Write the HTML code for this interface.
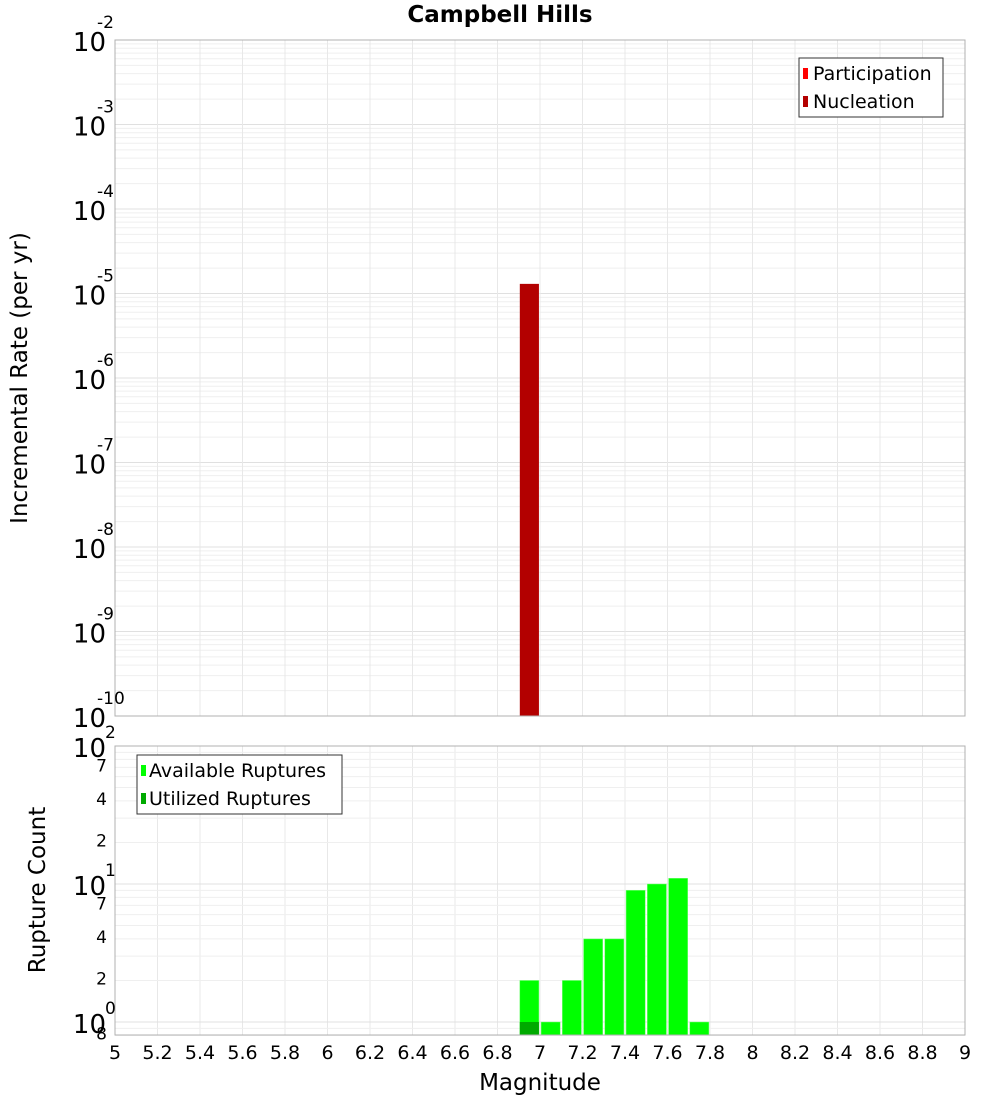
<!DOCTYPE html>
<html><head><meta charset="utf-8"><style>
body{margin:0;background:#fff;font-family:"DejaVu Sans","Liberation Sans",sans-serif}
</style></head><body>
<svg id="c" width="1000" height="1100" xmlns="http://www.w3.org/2000/svg"></svg>
<script>
const mags = [6.95];
const nucleation = [1.3e-5];
const participation = [1.3e-5];
const rupMags = [6.95, 7.05, 7.15, 7.25, 7.35, 7.45, 7.55, 7.65, 7.75];
const available = [2, 1, 2, 4, 4, 9, 10, 11, 1];
const utilMags = [6.95];
const utilized = [1];
const xTicks = [5,5.2,5.4,5.6,5.8,6,6.2,6.4,6.6,6.8,7,7.2,7.4,7.6,7.8,8,8.2,8.4,8.6,8.8,9];

const NS="http://www.w3.org/2000/svg";
const svg=document.getElementById('c');
function el(t,a,name,p){const e=document.createElementNS(NS,t);for(const k in a)e.setAttribute(k,a[k]);


(p||svg).appendChild(e);return e;}
const X0=115,X1=965;
const xs=v=>X0+(v-5)/4*(X1-X0);
const T0=40,T1=716; const ys1=v=>T0+(-2-Math.log10(v))*(T1-T0)/8;
const B0=746,B1=1035; const ys2=v=>B0+(2-Math.log10(v))*138;

el('rect',{x:X0,y:T0,width:X1-X0,height:T1-T0,fill:'#fff'},'top-plot-area');
for(let d=-10;d<-2;d++)for(let m=1;m<10;m++){const y=ys1(m*Math.pow(10,d));
el('line',{x1:X0,x2:X1,y1:y,y2:y,stroke:m==1?'#e0e0e0':'#efefef','stroke-width':1},'top-h-grid');}
for(let v=5.2;v<9;v+=0.2){const x=xs(v);el('line',{x1:x,x2:x,y1:T0,y2:T1,stroke:'#e8e8e8'},'top-v-grid');
el('line',{x1:x,x2:x,y1:B0,y2:B1,stroke:'#e8e8e8'},'bottom-v-grid');}
for(let d=-1;d<2;d++)for(let m=1;m<10;m++){const v=m*Math.pow(10,d);if(v<0.8)continue;const y=ys2(v);
el('line',{x1:X0,x2:X1,y1:y,y2:y,stroke:m==1?'#e0e0e0':'#efefef'},'bottom-h-grid');}

mags.forEach((m,i)=>{const y=ys1(nucleation[i]);
el('rect',{x:xs(m-0.045),y:y,width:xs(m+0.045)-xs(m-0.045),height:T1-y,fill:'#b30000'},'nucleation-bar');});
rupMags.forEach((m,i)=>{const y=ys2(available[i]);
el('rect',{x:xs(m-0.045),y:y,width:xs(m+0.045)-xs(m-0.045),height:B1-y,fill:'#00ff00',stroke:'#7fff7f','stroke-width':0.5},'available-bar');});
utilMags.forEach((m,i)=>{const y=ys2(utilized[i]);
el('rect',{x:xs(m-0.045),y:y,width:xs(m+0.045)-xs(m-0.045),height:B1-y,fill:'#00aa00'},'utilized-bar');});

el('rect',{x:X0,y:T0,width:X1-X0,height:T1-T0,fill:'none',stroke:'#b0b0b0'},'top-plot-border');
el('rect',{x:X0,y:B0,width:X1-X0,height:B1-B0,fill:'none',stroke:'#b0b0b0'},'bottom-plot-border');

function txt(x,y,s,size,name,o){const t=el('text',Object.assign({x:x,y:y,'font-size':size,fill:'#000'},o||{}),name);t.textContent=s;return t;}
txt(500,22,'Campbell Hills',23,'chart-title',{'text-anchor':'middle','font-weight':'bold'});
for(let d=-10;d<=-2;d++){const y=ys1(Math.pow(10,d));
txt(106,y+11,'10',26,'y-tick-label',{'text-anchor':'end'});
txt(97,y-12,String(d),17,'y-tick-exponent',{'text-anchor':'start'});}
[[100,'2'],[10,'1'],[1,'0']].forEach(([v,e])=>{const y=ys2(v);txt(106,y+11,'10',26,'y2-tick-label',{'text-anchor':'end'});txt(105,y-8,e,17,'y2-tick-exponent');});
[[70,'7'],[40,'4'],[20,'2'],[7,'7'],[4,'4'],[2,'2'],[0.8,'8']].forEach(([v,s])=>{const y=ys2(v);txt(107,y+4,s,17,'y2-minor-label',{'text-anchor':'end'});});
xTicks.forEach(v=>{txt(xs(v),1059,String(v),19,'x-tick-label',{'text-anchor':'middle'});});
txt(540,1090,'Magnitude',23,'x-axis-title',{'text-anchor':'middle'});
txt(0,0,'Incremental Rate (per yr)',23,'y-axis-title',{'text-anchor':'middle',transform:'translate(27,378) rotate(-90)'});
txt(0,0,'Rupture Count',23,'y2-axis-title',{'text-anchor':'middle',transform:'translate(45,890) rotate(-90)'});

el('rect',{x:799,y:58,width:144,height:59,fill:'#fff',stroke:'#333'},'top-legend');
el('rect',{x:803,y:68,width:5,height:11,fill:'#ff0000'},'legend-participation-swatch');
txt(813,80,'Participation',19,'legend-participation');
el('rect',{x:803,y:96,width:5,height:11,fill:'#b30000'},'legend-nucleation-swatch');
txt(813,108,'Nucleation',19,'legend-nucleation');
el('rect',{x:137,y:755,width:205,height:59,fill:'#fff',stroke:'#333'},'bottom-legend');
el('rect',{x:141,y:765,width:5,height:11,fill:'#00ff00'},'legend-available-swatch');
txt(149,777,'Available Ruptures',19,'legend-available');
el('rect',{x:141,y:793,width:5,height:11,fill:'#00aa00'},'legend-utilized-swatch');
txt(149,805,'Utilized Ruptures',19,'legend-utilized');
</script>
</body></html>
